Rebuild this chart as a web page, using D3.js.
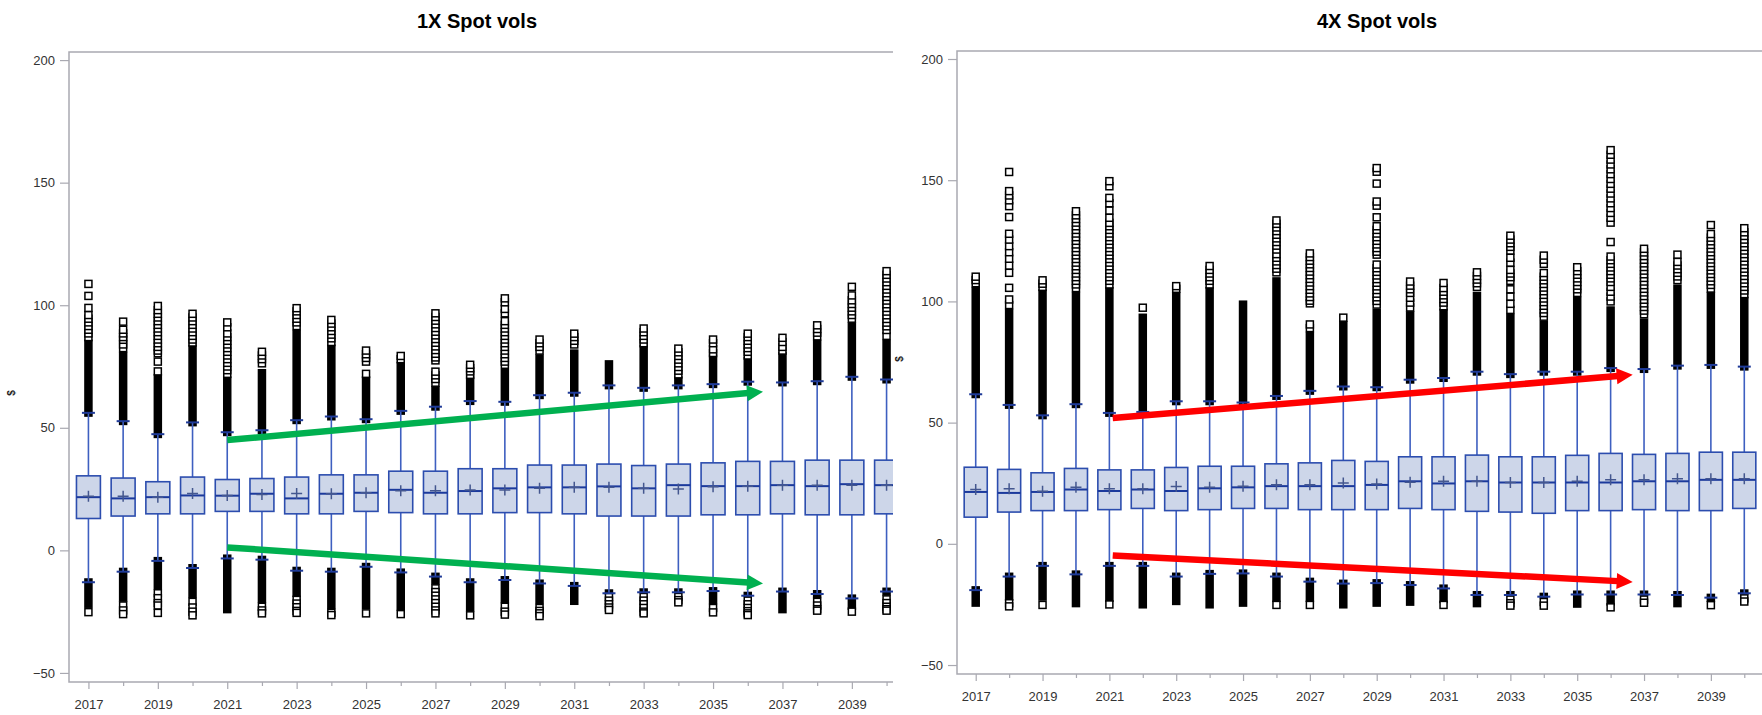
<!DOCTYPE html>
<html>
<head>
<meta charset="utf-8">
<script src="https://cdn.jsdelivr.net/npm/d3@7"></script>
<style>
  html, body { margin: 0; padding: 0; background: #fff; }
  svg { display: block; font-family: "Liberation Sans", Arial, sans-serif; }
</style>
</head>
<body>
<svg id="chart" width="1762" height="715"></svg>
<script>
// ---- categories and ticks ----
const years = [2017, 2018, 2019, 2020, 2021, 2022, 2023, 2024, 2025, 2026, 2027, 2028,
               2029, 2030, 2031, 2032, 2033, 2034, 2035, 2036, 2037, 2038, 2039, 2040];
const labelYears = [2017, 2019, 2021, 2023, 2025, 2027, 2029, 2031, 2033, 2035, 2037, 2039];
const yTicks = [-50, 0, 50, 100, 150, 200];

// ---- 1X spot vols: box statistics ----
const q1_1x     = [13.0, 14.0, 14.9, 14.9, 15.9, 15.9, 14.9, 14.9, 15.9, 15.4, 14.9, 14.9, 15.4, 15.4, 14.9, 14.0, 14.0, 14.0, 14.5, 14.5, 14.9, 14.5, 14.5, 14.9];
const median_1x = [21.7, 21.2, 21.7, 22.4, 22.3, 23.1, 21.2, 23.1, 23.5, 24.7, 23.5, 24.2, 25.3, 25.7, 25.7, 26.1, 25.3, 26.6, 26.2, 26.2, 26.6, 26.2, 27.0, 26.6];
const q3_1x     = [30.4, 29.5, 28.0, 29.9, 28.9, 29.3, 29.9, 30.8, 30.8, 32.3, 32.3, 33.3, 33.3, 34.8, 34.8, 35.2, 34.6, 35.2, 35.7, 36.3, 36.3, 36.8, 36.8, 36.8];
const mean_1x   = [22.1, 22.1, 21.7, 23.2, 22.4, 22.8, 23.2, 23.1, 23.5, 24.3, 24.3, 24.6, 24.6, 25.3, 25.7, 25.7, 25.3, 25.0, 26.0, 26.2, 26.6, 26.6, 26.6, 26.6];
const whiskerLo_1x = [-13.0, -8.7, -4.3, -7.2, -3.3, -3.8, -8.3, -8.7, -6.7, -9.0, -10.7, -13.0, -12.1, -13.5, -14.5, -17.5, -17.1, -17.1, -16.6, -18.5, -16.8, -17.8, -19.6, -16.8];
const whiskerHi_1x = [56.1, 52.7, 47.4, 52.2, 48.2, 49.0, 53.1, 54.6, 53.5, 56.9, 58.6, 60.9, 60.6, 63.3, 64.3, 67.3, 66.3, 67.3, 67.8, 68.8, 68.5, 69.0, 70.8, 69.7];
// outliers packed solidly between the whisker and these values
const denseHi_1x = [86, 81, 72, 84, 71, 74, 90, 84, 71, 77, 67, 71, 74, 80, 82, 77.6, 84, 71, 80, 79, 81, 86, 93, 86];
const denseLo_1x = [-23.5, -21, -16, -19.5, -25.7, -21.5, -19, -24, -24, -24.6, -14, -25, -21.6, -22, -22.3, -18, -17.5, -17.5, -22, -19, -25.7, -19.5, -24.3, -18.5];
// individual outliers beyond the packed range
const outHi_1x = [
  [108.7, 103.8, 98.9, 96, 94.5, 93, 91.5, 90, 88.5, 87],
  [93.3, 90, 88.5, 87, 85.9, 84, 82.5],
  [99.7, 98, 96.5, 95, 93.5, 92, 90.5, 89, 87.5, 86, 84.5, 83, 81.5, 80.4, 77, 73],
  [96.5, 95, 93.5, 92, 90.5, 89, 87.5, 86, 84.8],
  [93, 91, 88.5, 87, 85.5, 84, 82.5, 81, 79.5, 78, 76.5, 75, 73.5, 72],
  [81, 79.5, 78, 76.3],
  [98.8, 97.5, 96, 94.5, 93, 91.5],
  [94, 92.5, 91, 89.5, 88, 86.5, 85],
  [81.5, 80, 78.5, 77, 72],
  [79.3, 78],
  [96.7, 95.2, 93.7, 92.2, 90.7, 89.2, 87.7, 86.2, 84.7, 83.2, 81.7, 80.2, 78.7, 77.5, 72.9, 71.4, 69.9, 68.4],
  [75.7, 74.3, 73, 71.6],
  [102.8, 101.2, 98.5, 96.7, 93.5, 92, 90.5, 89, 87.5, 86, 84.5, 83, 81.5, 80, 78.5, 77, 75.7],
  [86, 84.5, 83, 81.5],
  [88.4, 87, 85.5, 84],
  [],
  [90.5, 89, 87.5, 86, 84.5],
  [82.3, 80.8, 79.3, 77.8, 76.3, 74.8, 73.3, 71.8],
  [86, 84.5, 82, 80.5],
  [88.4, 87, 85.5, 84, 82.5, 81, 79.5],
  [86.7, 85, 83, 81.5],
  [91.8, 90.3, 88.8, 87.3],
  [107.5, 104, 102, 100.5, 99, 97.5, 96, 94.5],
  [113.9, 112.4, 110.9, 109.4, 107.9, 106.4, 104.9, 103.4, 101.9, 100.4, 98.9, 97.4, 95.9, 94.4, 92.9, 91.4, 89.9, 87.5]
];
const outLo_1x = [
  [-25.2], [-22.5, -24.5, -26], [-17.5, -19.5, -21.5, -22.5, -25.5], [-21, -23.3, -25, -26.5],
  [], [-23, -24.5, -25.7], [-20.2, -21.7, -23.2, -24.7, -25.5], [-25.5, -26.4],
  [-25.7], [-26], [-15.5, -17, -18.5, -20, -21.5, -23, -24.5, -25.7], [-26.5],
  [-23, -25, -26.2], [-23.5, -24.7, -25.7, -26.8], [], [-19, -20.5, -22, -23.3, -24.3],
  [-19, -20.5, -22, -23.5, -25, -25.7], [-19, -20.3, -21.2], [-23.5, -25.3], [-20.5, -22, -23.5, -24.8, -25.7, -26.4],
  [], [-21, -22.5, -24, -24.6], [-25], [-20, -21.5, -23, -24, -24.6]
];

// ---- 4X spot vols: box statistics ----
const q1_4x     = [11.0, 13.1, 13.7, 13.7, 14.1, 14.6, 13.7, 14.1, 14.6, 14.6, 14.1, 14.1, 14.1, 14.6, 14.1, 13.4, 13.1, 12.6, 13.7, 13.7, 14.1, 13.7, 13.7, 14.6];
const median_4x = [21.4, 21.0, 21.4, 22.4, 21.8, 22.4, 21.8, 22.9, 23.3, 23.8, 23.8, 23.8, 24.3, 25.8, 24.9, 25.8, 25.3, 25.3, 25.3, 25.3, 25.8, 25.8, 26.4, 26.4];
const q3_4x     = [31.6, 30.7, 29.3, 31.1, 30.5, 30.5, 31.5, 32.0, 32.0, 33.0, 33.4, 34.4, 34.0, 35.9, 35.9, 36.6, 35.9, 35.9, 36.5, 37.3, 36.9, 37.3, 37.8, 37.8];
const mean_4x   = [22.4, 22.7, 21.7, 23.3, 22.7, 22.7, 23.6, 23.3, 23.8, 24.4, 24.4, 25.1, 24.7, 25.4, 25.8, 25.8, 25.3, 25.3, 25.8, 26.4, 26.4, 26.8, 26.8, 26.8];
const whiskerLo_4x = [-19.1, -13.5, -9.1, -12.6, -9.1, -9.1, -13.5, -12.4, -12.2, -13.5, -15.6, -16.4, -16.2, -17.0, -18.4, -21.1, -21.1, -21.8, -20.9, -20.9, -20.9, -21.1, -22.2, -20.4];
const whiskerHi_4x = [61.7, 57.3, 53.0, 57.6, 54.0, 54.4, 58.8, 58.8, 58.3, 61.0, 63.1, 64.9, 64.6, 67.7, 68.4, 71.0, 70.0, 71.0, 71.0, 72.5, 72.1, 73.5, 73.8, 73.1];
const denseHi_4x = [106, 97, 105, 104, 106, 95, 104, 106, 100.4, 110, 87.5, 92, 97, 96, 97, 104, 95, 92, 102, 98, 93, 107, 104, 102];
const denseLo_4x = [-26, -23.5, -23.5, -26.2, -24, -26.7, -25.3, -26.7, -26, -24, -24, -26.7, -26, -25.6, -24.5, -26.2, -21.5, -22.5, -26.4, -25.5, -21.5, -26.2, -24, -21];
const outHi_4x = [
  [110.2, 108.8, 107.5],
  [153.4, 145.5, 143.7, 141.7, 139.3, 134.8, 127.9, 125.5, 122.8, 120.3, 117.6, 114.8, 111.8, 105.6, 100.8, 98.5],
  [108.7, 107.3, 106],
  [137.2, 135.5, 134, 132.5, 131, 129.5, 128, 126.5, 125, 123.5, 122, 120.5, 119, 117.5, 116, 114.5, 113, 111.5, 110, 108.5, 107, 105.5],
  [149.6, 147.5, 142.7, 140.5, 137.5, 134.5, 132.4, 131, 129.5, 128, 126.5, 125, 123.5, 122, 120.5, 119, 117.5, 116, 114.5, 113, 111.5, 110, 108.5, 107],
  [97.4],
  [106.3, 105.2],
  [114.6, 113, 111.5, 110, 108.5, 107],
  [],
  [133.4, 132, 130.5, 129, 127.5, 126, 124.5, 123, 121.4, 119.5, 118, 116.5, 115, 113.5, 112],
  [119.8, 118.3, 116.8, 115.3, 113.8, 112.3, 110.8, 109.3, 107.8, 106.3, 104.8, 103.3, 101.8, 100.3, 99.2, 90.5, 89],
  [93.3],
  [155, 153.5, 148.6, 141.2, 139.5, 134.7, 131, 129.5, 128, 126.5, 125, 123.5, 122, 120.5, 119.3, 115.2, 113.7, 112.2, 110.7, 109.2, 107.7, 106.2, 104.7, 103.2, 101.7, 100.2, 98.7],
  [108.2, 106.5, 105, 103.5, 101.5, 99.5, 97.5],
  [107.6, 105.5, 104, 102.5, 101, 99.5, 98],
  [112, 110.5, 109, 107.5, 106],
  [127.1, 125.5, 124, 122.5, 121, 118, 116, 113, 111.5, 110, 108.5, 105, 102, 99, 96.5],
  [118.9, 117.2, 115.5, 111.7, 110.2, 108.7, 107.2, 105.7, 104.2, 102.7, 101.2, 99.7, 98.2, 96.7, 95.2, 93.7],
  [114.1, 112.5, 111, 109.5, 108, 106.5, 105, 103.5],
  [162.4, 160.5, 158.5, 156.5, 154.5, 152.5, 150.5, 148.5, 146.5, 144.5, 142.5, 140.5, 138.5, 136.5, 134.5, 132.5, 124.5, 118.5, 117, 115.5, 114, 112.5, 111, 109.5, 108, 106, 104, 102, 100],
  [121.7, 120.2, 118.7, 117.2, 115.7, 114.2, 112.7, 111.2, 109.7, 108.2, 106.7, 105.2, 103.7, 102.2, 100.7, 99.2, 97.7, 96.2, 94.7],
  [119.3, 116.3, 114.8, 113.3, 111.8, 110.3, 108.8],
  [131.5, 127.8, 126.3, 124.8, 123.3, 121.8, 120.3, 118.8, 117.3, 115.8, 114.3, 112.8, 111.3, 109.8, 108.3, 106.8, 105.3],
  [130.2, 128.5, 127, 125.5, 124, 122.5, 121, 119.5, 118, 116.5, 115, 113.5, 112, 110.5, 109, 107.5, 106, 104.5, 103]
];
const outLo_4x = [
  [], [-24.5, -25.8], [-25.2], [], [-25], [], [], [], [], [-25.2], [-25.2], [],
  [], [], [-25.2], [], [-23, -24.5, -25.5], [-24, -25.5], [], [-26.2], [-23, -24.3], [], [-25.3], [-22.5, -23.8]
];

// ---- trend arrows: [fromYear, fromValue, toYear, toValue] ----
const arrows_1x = [[2021, 45.0, 2036.44, 64.7], [2021, 1.2, 2036.44, -13.5]];
const arrows_4x = [[2021.1, 51.9, 2036.66, 69.7], [2021.1, -4.8, 2036.66, -15.7]];

const panels = [
  { title: "1X Spot vols", q1: q1_1x, med: median_1x, q3: q3_1x, mean: mean_1x,
    wLo: whiskerLo_1x, wHi: whiskerHi_1x, dHi: denseHi_1x, dLo: denseLo_1x,
    oHi: outHi_1x, oLo: outLo_1x, arrows: arrows_1x, arrowColor: "#00B050",
    x0: 69, x1: 906, clipX: 893, top: 52, bottom: 682, titleX: 477, labelY: 393 },
  { title: "4X Spot vols", q1: q1_4x, med: median_4x, q3: q3_4x, mean: mean_4x,
    wLo: whiskerLo_4x, wHi: whiskerHi_4x, dHi: denseHi_4x, dLo: denseLo_4x,
    oHi: outHi_4x, oLo: outLo_4x, arrows: arrows_4x, arrowColor: "#FF0000",
    x0: 957, x1: 1763, clipX: 1762, top: 51, bottom: 674, titleX: 1377, labelY: 359 }
];

const svg = d3.select("#chart");
const frameColor = "#A9A9B1";

panels.forEach((p, pi) => {
  const x = d3.scalePoint().domain(years).range([p.x0, p.x1]).padding(0.56);
  const y = d3.scaleLinear().domain([-53.7, 203.3]).range([p.bottom, p.top]);
  const step = x.step();
  const xAt = yr => { const f = Math.floor(yr); return x(f) + (yr - f) * step; };

  const clipId = "plotclip" + pi;
  svg.append("clipPath").attr("id", clipId)
    .append("rect").attr("x", p.x0).attr("y", 0)
    .attr("width", p.clipX - p.x0).attr("height", 715);

  const g = svg.append("g");

  // title
  g.append("text").attr("x", p.titleX).attr("y", 27.5)
    .attr("text-anchor", "middle").attr("font-size", 20).attr("font-weight", "bold")
    .attr("font-family", "'Liberation Sans Narrow', 'Arial Narrow', 'Liberation Sans', sans-serif")
    .attr("fill", "#000").text(p.title);

  // y axis
  const ya = g.append("g").attr("transform", `translate(${p.x0},0)`)
    .call(d3.axisLeft(y).tickValues(yTicks).tickSize(9).tickPadding(5).tickSizeOuter(0));
  ya.select(".domain").remove();
  ya.selectAll(".tick line").attr("stroke", frameColor).attr("stroke-width", 1.2);
  ya.selectAll(".tick text").attr("fill", "#333").attr("font-size", 13)
    .attr("font-family", "Liberation Sans, Arial, sans-serif");

  // y axis label
  g.append("text")
    .attr("transform", `translate(${p.x0 - 54},${p.labelY}) rotate(-90)`)
    .attr("text-anchor", "middle").attr("font-size", 10).attr("font-weight", "bold")
    .attr("fill", "#222").text("$");

  // x axis
  const xa = g.append("g").attr("transform", `translate(0,${p.bottom})`)
    .attr("clip-path", `url(#${clipId})`)
    .call(d3.axisBottom(x).tickValues(years).tickSize(7).tickPadding(11).tickSizeOuter(0)
      .tickFormat(d => labelYears.includes(d) ? String(d) : ""));
  xa.select(".domain").remove();
  xa.selectAll(".tick line").attr("stroke", frameColor).attr("stroke-width", 1.2)
    .attr("y2", d => labelYears.includes(d) ? 7 : 4);
  xa.selectAll(".tick text").attr("fill", "#333").attr("font-size", 13)
    .attr("font-family", "Liberation Sans, Arial, sans-serif");

  // frame (top, left, bottom)
  g.append("path")
    .attr("d", `M${p.clipX},${p.top}H${p.x0}V${p.bottom}H${p.clipX}`)
    .attr("fill", "none").attr("stroke", frameColor).attr("stroke-width", 1.5);

  const plot = g.append("g").attr("clip-path", `url(#${clipId})`);
  const bw = step * 0.69;
  const ow = 8.5;   // outlier column width
  const sq = 7;     // outlier square size

  years.forEach((yr, i) => {
    const cx = x(yr);
    const col = plot.append("g");

    // packed outliers
    if (p.dHi[i] > p.wHi[i]) {
      col.append("rect").attr("x", cx - ow / 2).attr("y", y(p.dHi[i]))
        .attr("width", ow).attr("height", y(p.wHi[i]) + 4 - y(p.dHi[i])).attr("fill", "#000");
    }
    if (p.dLo[i] < p.wLo[i]) {
      col.append("rect").attr("x", cx - ow / 2).attr("y", y(p.wLo[i]) - 4)
        .attr("width", ow).attr("height", y(p.dLo[i]) - y(p.wLo[i]) + 4).attr("fill", "#000");
    }
    // individual outliers (drawn outward so the extreme ones sit on top)
    const hi = p.oHi[i].slice().sort((a, b) => a - b);
    const lo = p.oLo[i].slice().sort((a, b) => b - a);
    hi.concat(lo).forEach(v => {
      col.append("rect").attr("x", cx - sq / 2).attr("y", y(v) - sq / 2)
        .attr("width", sq).attr("height", sq)
        .attr("fill", "#fff").attr("stroke", "#000").attr("stroke-width", 1.5);
    });

    // whiskers
    col.append("line").attr("x1", cx).attr("x2", cx).attr("y1", y(p.wHi[i])).attr("y2", y(p.q3[i]))
      .attr("stroke", "#3E5FC0").attr("stroke-width", 1.6);
    col.append("line").attr("x1", cx).attr("x2", cx).attr("y1", y(p.q1[i])).attr("y2", y(p.wLo[i]))
      .attr("stroke", "#3E5FC0").attr("stroke-width", 1.6);
    [p.wHi[i], p.wLo[i]].forEach(v => {
      col.append("line").attr("x1", cx - 6.5).attr("x2", cx + 6.5).attr("y1", y(v)).attr("y2", y(v))
        .attr("stroke", "#1E3A98").attr("stroke-width", 2);
    });

    // box
    col.append("rect").attr("x", cx - bw / 2).attr("y", y(p.q3[i]))
      .attr("width", bw).attr("height", y(p.q1[i]) - y(p.q3[i]))
      .attr("fill", "#CDD6E9").attr("stroke", "#2C4DAE").attr("stroke-width", 1.6);
    // median
    col.append("line").attr("x1", cx - bw / 2).attr("x2", cx + bw / 2)
      .attr("y1", y(p.med[i])).attr("y2", y(p.med[i]))
      .attr("stroke", "#1C3A9C").attr("stroke-width", 2);
    // mean marker
    const my = y(p.mean[i]);
    col.append("path").attr("d", `M${cx - 5.5},${my}H${cx + 5.5}M${cx},${my - 5.5}V${my + 5.5}`)
      .attr("stroke", "#44578F").attr("stroke-width", 1.5).attr("fill", "none");
  });

  // trend arrows
  p.arrows.forEach(a => {
    const xs = xAt(a[0]), ys = y(a[1]), xe = xAt(a[2]), ye = y(a[3]);
    const ang = Math.atan2(ye - ys, xe - xs);
    const hl = 16, hw = 8;
    const bx = xe - hl * Math.cos(ang), by = ye - hl * Math.sin(ang);
    g.append("line").attr("x1", xs).attr("y1", ys).attr("x2", bx + Math.cos(ang)).attr("y2", by + Math.sin(ang))
      .attr("stroke", p.arrowColor).attr("stroke-width", 6.5);
    const px = -Math.sin(ang), py = Math.cos(ang);
    g.append("path")
      .attr("d", `M${xe},${ye}L${bx + px * hw},${by + py * hw}L${bx - px * hw},${by - py * hw}Z`)
      .attr("fill", p.arrowColor);
  });
});
</script>
</body>
</html>
